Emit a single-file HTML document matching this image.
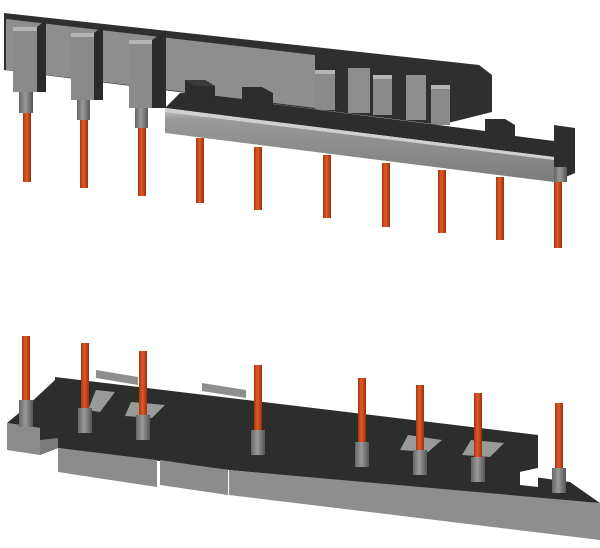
<!DOCTYPE html>
<html><head><meta charset="utf-8"><style>html,body{margin:0;padding:0;background:#fff}svg{display:block}</style></head>
<body>
<svg width="600" height="548" viewBox="0 0 600 548" xmlns="http://www.w3.org/2000/svg">
<defs>
<linearGradient id="pin" x1="0" x2="1"><stop offset="0" stop-color="#a83510"/><stop offset="0.45" stop-color="#e25a24"/><stop offset="1" stop-color="#9a2e0c"/></linearGradient>
<linearGradient id="cyl" x1="0" x2="1"><stop offset="0" stop-color="#666"/><stop offset="0.45" stop-color="#9a9a9a"/><stop offset="1" stop-color="#555"/></linearGradient>
<linearGradient id="bar" x1="0" y1="0" x2="0" y2="1"><stop offset="0" stop-color="#c8c8c8"/><stop offset="0.15" stop-color="#9a9a9a"/><stop offset="1" stop-color="#7c7c7c"/></linearGradient>
</defs>
<!-- TOP BACK BAR -->
<polygon points="4,13 479,65 492,75 492,112 440,125 4,70" fill="#2f2f2f"/>
<polygon points="6,19 315,55 315,108 6,70" fill="#8e8e8e"/>
<polygon points="13,27 37,27 46,20 46,92 37,92" fill="#2b2b2b"/>
<rect x="13" y="27" width="24" height="65" fill="#8a8a8a"/><rect x="13" y="27" width="24" height="4" fill="#b5b5b5"/>
<polygon points="71,33 94,33 103,26 103,100 94,100" fill="#2b2b2b"/>
<rect x="71" y="33" width="23" height="67" fill="#8a8a8a"/><rect x="71" y="33" width="23" height="4" fill="#b5b5b5"/>
<polygon points="129,40 152,40 166,30 166,108 152,108" fill="#2b2b2b"/>
<rect x="129" y="40" width="23" height="68" fill="#8a8a8a"/><rect x="129" y="40" width="23" height="4" fill="#b5b5b5"/>
<rect x="315" y="70" width="20" height="40" fill="#8a8a8a"/><rect x="315" y="70" width="20" height="4" fill="#b5b5b5"/>
<rect x="348" y="68" width="22" height="45" fill="#8e8e8e"/>
<rect x="373" y="75" width="19" height="40" fill="#8a8a8a"/><rect x="373" y="75" width="19" height="4" fill="#b5b5b5"/>
<rect x="406" y="75" width="20" height="45" fill="#8e8e8e"/>
<rect x="431" y="85" width="19" height="40" fill="#8a8a8a"/><rect x="431" y="85" width="19" height="4" fill="#b5b5b5"/>
<rect x="19" y="92" width="14" height="21" fill="url(#cyl)"/><rect x="23" y="113" width="8" height="69" fill="url(#pin)"/>
<rect x="77" y="100" width="13" height="20" fill="url(#cyl)"/><rect x="80" y="120" width="8" height="68" fill="url(#pin)"/>
<rect x="135" y="108" width="13" height="20" fill="url(#cyl)"/><rect x="138" y="128" width="8" height="68" fill="url(#pin)"/>
<!-- FRONT BAR -->
<polygon points="165,108 180,93 185,93 185,80 205,80 215,86 215,96 242,99 242,87 262,87 273,93 273,104 485,131 485,119 505,119 515,125 515,136 554,141 554,125 575,128 575,173 554,182 554,157" fill="#2d2d2d"/>
<polygon points="185,80 205,80 215,86 195,86" fill="#3a3a3a"/>
<polygon points="165,108 554,157 554,182 165,133" fill="url(#bar)"/>
<polygon points="165,108 554,157 554,160 165,112" fill="#d0d0d0"/>
<rect x="554" y="167" width="13" height="15" fill="url(#cyl)"/>
<g fill="url(#pin)">
<rect x="196" y="138" width="8" height="65"/>
<rect x="254" y="147" width="8" height="63"/>
<rect x="323" y="155" width="8" height="63"/>
<rect x="382" y="163" width="8" height="64"/>
<rect x="438" y="170" width="8" height="63"/>
<rect x="496" y="177" width="8" height="63"/>
<rect x="554" y="182" width="8" height="66"/>
</g>
<!-- BOTTOM PART -->
<polygon points="96,370 138,377 138,385 96,378" fill="#8e8e8e"/>
<polygon points="202,383 246,390 246,398 202,391" fill="#8e8e8e"/>
<polygon points="55,377 538,435 538,468 520,472 520,475 570,482 600,503 600,505 229,470 58,448 40,455 40,428 7,423 25,408 55,380" fill="#2d2d2d"/>
<polygon points="7,423 40,428 40,455 7,450" fill="#8c8c8c"/>
<polygon points="40,440 58,438 58,448 40,455" fill="#7a7a7a"/>
<polygon points="58,448 157,460 157,487 58,472" fill="#8c8c8c"/>
<polygon points="160,460 228,470 228,495 160,485" fill="#8c8c8c"/>
<polygon points="229,470 600,503 600,540 229,495" fill="#8e8e8e"/>
<polygon points="520,472 538,468 538,487 520,485" fill="#fff"/>
<polygon points="96,390 115,392 100,412 88,410" fill="#9a9a9a"/>
<polygon points="131,402 165,405 152,418 125,416" fill="#9a9a9a"/>
<polygon points="408,435 442,440 428,452 400,450" fill="#9a9a9a"/>
<polygon points="471,440 504,443 490,457 462,455" fill="#9a9a9a"/>
<g fill="url(#cyl)">
<rect x="19" y="400" width="14" height="27"/>
<rect x="78" y="408" width="14" height="25"/>
<rect x="136" y="415" width="14" height="25"/>
<rect x="251" y="430" width="14" height="25"/>
<rect x="355" y="442" width="14" height="25"/>
<rect x="413" y="450" width="14" height="25"/>
<rect x="471" y="457" width="14" height="25"/>
<rect x="552" y="468" width="14" height="25"/>
</g>
<g fill="url(#pin)">
<rect x="22" y="336" width="8" height="64"/>
<rect x="81" y="343" width="8" height="65"/>
<rect x="139" y="351" width="8" height="64"/>
<rect x="254" y="365" width="8" height="65"/>
<rect x="358" y="378" width="8" height="64"/>
<rect x="416" y="385" width="8" height="65"/>
<rect x="474" y="393" width="8" height="64"/>
<rect x="555" y="403" width="8" height="65"/>
</g>
</svg>
</body></html>
